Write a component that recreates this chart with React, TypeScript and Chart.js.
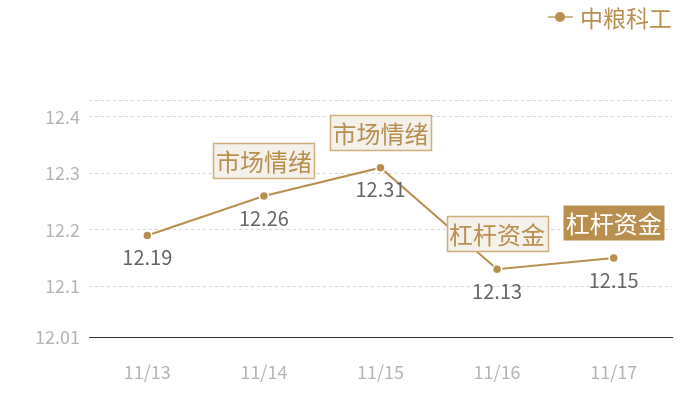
import React, { useEffect, useRef } from 'react';
import { Chart, registerables } from 'chart.js';

Chart.register(...registerables);

// chart data
const categories = ['11/13', '11/14', '11/15', '11/16', '11/17'];
const prices = [12.19, 12.26, 12.31, 12.13, 12.15];
const tags = [null, '市场情绪', '市场情绪', '杠杆资金', '杠杆资金'];
const tagFilled = [false, false, false, false, true];
const yTicks = [12.01, 12.1, 12.2, 12.3, 12.4];
const yMin = 12.01;
const yMax = 12.43;
const seriesName = '中粮科工';

const GOLD = '#b88f4f';
const FONT = '"Noto Sans CJK SC", "Noto Sans", sans-serif';

const overlayPlugin = {
  id: 'overlay',
  afterDatasetsDraw(chart: any) {
    const ctx = chart.ctx;
    const meta = chart.getDatasetMeta(0);
    ctx.save();
    // value labels under the points
    ctx.font = `20px ${FONT}`;
    ctx.fillStyle = '#666';
    ctx.textAlign = 'center';
    ctx.textBaseline = 'middle';
    meta.data.forEach((pt: any, i: number) => {
      ctx.fillText(String(prices[i]), pt.x, pt.y + 22);
    });
    // tag boxes above the points
    ctx.font = `24px ${FONT}`;
    meta.data.forEach((pt: any, i: number) => {
      const t = tags[i];
      if (!t) return;
      const w = 101;
      const h = 35;
      const x = Math.round(pt.x - w / 2) + 0.5;
      const y = Math.round(pt.y - 18 - h) + 0.5;
      if (tagFilled[i]) {
        ctx.fillStyle = GOLD;
        ctx.fillRect(x, y, w, h);
        ctx.fillStyle = '#fff';
      } else {
        ctx.fillStyle = '#f4f0ea';
        ctx.fillRect(x, y, w, h);
        ctx.strokeStyle = '#cfae7c';
        ctx.lineWidth = 1.5;
        ctx.strokeRect(x, y, w, h);
        ctx.fillStyle = GOLD;
      }
      ctx.fillText(t, pt.x, y + h / 2 + 1);
    });
    // legend
    const right = chart.chartArea.right;
    ctx.font = `23px ${FONT}`;
    ctx.textAlign = 'left';
    ctx.fillStyle = GOLD;
    const tw = ctx.measureText(seriesName).width;
    const tx = right - tw;
    const ly = 17;
    ctx.fillText(seriesName, tx, ly + 1);
    ctx.strokeStyle = '#d2b88e';
    ctx.lineWidth = 2;
    ctx.beginPath();
    ctx.moveTo(tx - 32, ly);
    ctx.lineTo(tx - 7, ly);
    ctx.stroke();
    ctx.beginPath();
    ctx.arc(tx - 20, ly, 5, 0, Math.PI * 2);
    ctx.fill();
    ctx.restore();
  },
};

export default function App() {
  const canvasRef = useRef<HTMLCanvasElement>(null);

  useEffect(() => {
    const ctx = canvasRef.current?.getContext('2d');
    if (!ctx) return;
    const chart = new Chart(ctx, {
      type: 'line',
      data: {
        labels: categories,
        datasets: [
          {
            label: seriesName,
            data: prices,
            borderColor: GOLD,
            borderWidth: 2,
            pointRadius: 4.5,
            pointBackgroundColor: GOLD,
            pointBorderColor: '#fff',
            pointBorderWidth: 1.5,
            tension: 0,
          },
        ],
      },
      options: {
        responsive: false,
        animation: false,
        layout: { padding: { top: 100, right: 28, left: 0, bottom: 0 } },
        plugins: {
          legend: { display: false },
          tooltip: { enabled: false },
        },
        scales: {
          x: {
            offset: true,
            grid: { display: false },
            border: { display: true, color: '#333', width: 1 },
            ticks: {
              color: '#b5b5b5',
              font: { family: FONT, size: 18 },
              padding: 16,
            },
            afterFit: (s: any) => {
              s.height = 63;
            },
          },
          y: {
            min: yMin,
            max: yMax,
            border: { display: false, dash: [3, 3] },
            grid: {
              drawTicks: false,
              color: (c: any) => (c.tick && c.tick.value === yMin ? 'rgba(0,0,0,0)' : '#d5d5d5'),
              lineWidth: 1,
            },
            afterBuildTicks: (s: any) => {
              s.ticks = [...yTicks, yMax].map((v) => ({ value: v }));
            },
            ticks: {
              color: '#b5b5b5',
              font: { family: FONT, size: 18 },
              padding: 9,
              callback: (v: any) => (yTicks.includes(Number(v)) ? String(v) : ''),
            },
            afterFit: (s: any) => {
              s.width = 89;
            },
          },
        },
      },
      plugins: [overlayPlugin],
    });
    return () => chart.destroy();
  }, []);

  return (
    <div style={{ position: 'fixed', left: 0, top: 0, width: 700, height: 400, background: '#fff' }}>
      <canvas ref={canvasRef} width={700} height={400} />
    </div>
  );
}
